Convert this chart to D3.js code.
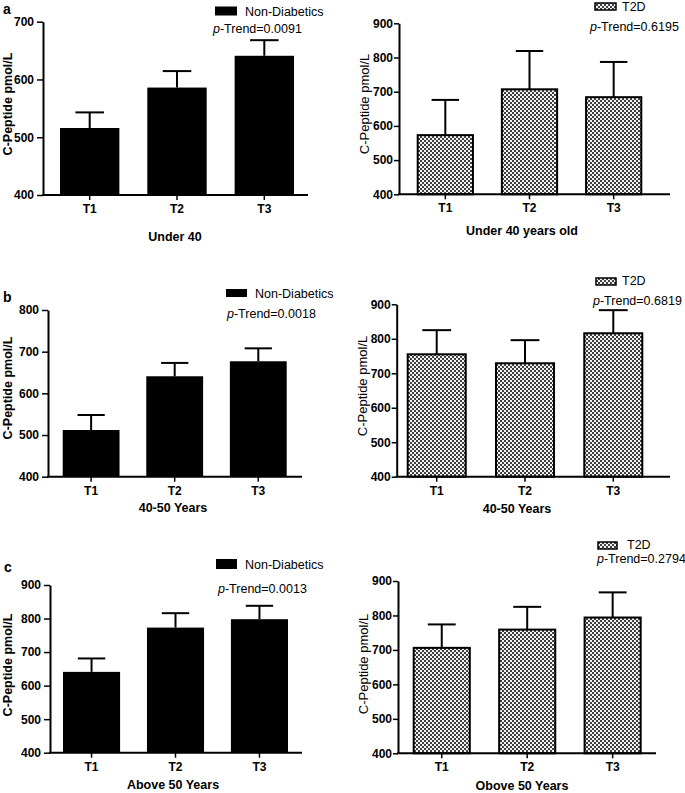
<!DOCTYPE html>
<html>
<head>
<meta charset="utf-8">
<script src="https://cdn.jsdelivr.net/npm/d3@7"></script>
<style>
  html, body { margin: 0; padding: 0; background: #fff; }
  svg { display: block; }
  text { font-family: "Liberation Sans", Arial, sans-serif; fill: #000; }
</style>
</head>
<body>
<svg id="chart" width="685" height="793"></svg>
<script>
// ---------- data ----------
const categories = ["T1", "T2", "T3"];

const under40NonDiab     = [516, 586, 641];
const under40NonDiabSEM  = [27, 28.5, 27];
const under40T2D         = [573, 707, 684];
const under40T2DSEM      = [103, 112, 103];

const age4050NonDiab     = [512, 641, 677];
const age4050NonDiabSEM  = [36, 32, 31];
const age4050T2D         = [755, 729, 816];
const age4050T2DSEM      = [70, 67, 67];

const above50NonDiab     = [641, 773, 798];
const above50NonDiabSEM  = [40, 43, 40];
const above50T2D         = [706, 759, 794];
const above50T2DSEM      = [68, 66, 73];

const ticks700 = [400, 500, 600, 700];
const ticks800 = [400, 500, 600, 700, 800];
const ticks900 = [400, 500, 600, 700, 800, 900];

const pTrends = ["0.0091", "0.6195", "0.0018", "0.6819", "0.0013", "0.2794"];
const groupLabels = ["Non-Diabetics", "T2D"];
const panelTitles = ["Under 40", "Under 40 years old", "40-50 Years", "40-50 Years", "Above 50 Years", "Obove 50 Years"];
const panelLetters = ["a", "b", "c"];
const yTitle = "C-Peptide pmol/L";

// ---------- layout ----------
const panels = [
  { values: under40NonDiab, sem: under40NonDiabSEM, ticks: ticks700, kind: 0, p: pTrends[0], title: panelTitles[0], letter: panelLetters[0],
    ax: 43, yTop: 21.7, yBot: 195, b0: 60, b1: 294, axEnd: 308,
    leg: [215, 6.5, 22, 9], legT: [245, 15.5], pT: [213, 33], titleX: 175, titleY: 241, letterXY: [3, 14], yLab: [12, 104] },
  { values: under40T2D, sem: under40T2DSEM, ticks: ticks900, kind: 1, p: pTrends[1], title: panelTitles[1], letter: null,
    ax: 399, yTop: 23.3, yBot: 194.3, b0: 416.7, b1: 642.3, axEnd: 670,
    leg: [595, 3, 21, 7], legT: [622, 11], pT: [590, 31], titleX: 522, titleY: 235, yLab: [369, 104] },
  { values: age4050NonDiab, sem: age4050NonDiabSEM, ticks: ticks800, kind: 0, p: pTrends[2], title: panelTitles[2], letter: panelLetters[1],
    ax: 48, yTop: 310, yBot: 476.7, b0: 62.7, b1: 286.7, axEnd: 302,
    leg: [226, 289, 21, 8], legT: [255, 298], pT: [227, 318], titleX: 173, titleY: 512, letterXY: [3, 302], yLab: [12, 388] },
  { values: age4050T2D, sem: age4050T2DSEM, ticks: ticks900, kind: 1, p: pTrends[3], title: panelTitles[3], letter: null,
    ax: 396.7, yTop: 304.3, yBot: 476.7, b0: 406.7, b1: 643.3, axEnd: 670,
    leg: [596, 278, 20, 7], legT: [622, 285], pT: [593, 305], titleX: 517, titleY: 513, yLab: [367, 386] },
  { values: above50NonDiab, sem: above50NonDiabSEM, ticks: ticks900, kind: 0, p: pTrends[4], title: panelTitles[4], letter: panelLetters[2],
    ax: 50, yTop: 585, yBot: 752.7, b0: 63, b1: 288, axEnd: 302,
    leg: [216, 559, 21, 10], legT: [245, 569], pT: [218, 593], titleX: 173, titleY: 789, letterXY: [4, 572], yLab: [12, 665] },
  { values: above50T2D, sem: above50T2DSEM, ticks: ticks900, kind: 1, p: pTrends[5], title: panelTitles[5], letter: null,
    ax: 398, yTop: 581, yBot: 753.3, b0: 412.7, b1: 641.7, axEnd: 656,
    leg: [598, 542, 19, 7], legT: [627, 549], pT: [597, 563], titleX: 522, titleY: 790, yLab: [368, 664] }
];

const svg = d3.select("#chart");

// checker pattern for T2D bars
const defs = svg.append("defs");
const pat = defs.append("pattern").attr("id", "chk")
  .attr("patternUnits", "userSpaceOnUse").attr("width", 4).attr("height", 4);
pat.append("rect").attr("width", 4).attr("height", 4).attr("fill", "#f2f2f2");
pat.append("rect").attr("x", 0).attr("y", 0).attr("width", 2).attr("height", 2).attr("fill", "#404040");
pat.append("rect").attr("x", 2).attr("y", 2).attr("width", 2).attr("height", 2).attr("fill", "#404040");

panels.forEach(P => {
  const g = svg.append("g");
  const y = d3.scaleLinear().domain([P.ticks[0], P.ticks[P.ticks.length - 1]]).range([P.yBot, P.yTop]);
  const x = d3.scaleBand().domain(categories).range([P.b0, P.b1]).paddingInner(0.32).paddingOuter(0);
  const bw = x.bandwidth();
  const fill = P.kind === 0 ? "#000" : "url(#chk)";

  // bars
  g.selectAll("rect.bar").data(categories).join("rect")
    .attr("class", "bar")
    .attr("x", d => x(d) + (P.kind === 1 ? 1 : 0))
    .attr("width", bw - (P.kind === 1 ? 2 : 0))
    .attr("y", (d, i) => y(P.values[i]))
    .attr("height", (d, i) => y(P.ticks[0]) - y(P.values[i]))
    .attr("fill", fill)
    .attr("stroke", "#000")
    .attr("stroke-width", P.kind === 1 ? 2 : 0);

  // error bars (upper)
  categories.forEach((c, i) => {
    const cx = x(c) + bw / 2;
    const top = y(P.values[i] + P.sem[i]);
    g.append("line").attr("x1", cx).attr("x2", cx)
      .attr("y1", y(P.values[i])).attr("y2", top)
      .attr("stroke", "#000").attr("stroke-width", 2);
    g.append("line").attr("x1", cx - bw * 0.24).attr("x2", cx + bw * 0.24)
      .attr("y1", top).attr("y2", top)
      .attr("stroke", "#000").attr("stroke-width", 2);
  });

  // y axis
  const tSize = P.kind === 0 ? 6 : 5;
  const tPad = P.kind === 0 ? 3 : 1;
  const yAx = g.append("g").attr("transform", `translate(${P.ax},0)`)
    .call(d3.axisLeft(y).tickValues(P.ticks).tickSize(tSize).tickSizeOuter(0).tickPadding(tPad).tickFormat(d3.format("d")));
  yAx.select(".domain").attr("stroke-width", 2);
  yAx.selectAll(".tick line").attr("stroke-width", 1.5);
  yAx.selectAll(".tick text").attr("font-size", 12).attr("font-weight", "bold")
    .attr("font-family", '"Liberation Sans", Arial, sans-serif').attr("fill", "#000");

  // x axis
  const xAx = g.append("g").attr("transform", `translate(0,${P.yBot})`)
    .call(d3.axisBottom(x).tickSize(5).tickSizeOuter(0).tickPadding(4.5));
  xAx.select(".domain").remove();
  xAx.selectAll(".tick line").attr("stroke-width", 1.5);
  xAx.selectAll(".tick text").attr("font-size", 12).attr("font-weight", "bold")
    .attr("font-family", '"Liberation Sans", Arial, sans-serif').attr("fill", "#000");
  g.append("line").attr("x1", P.ax - 1).attr("x2", P.axEnd)
    .attr("y1", P.yBot).attr("y2", P.yBot)
    .attr("stroke", "#000").attr("stroke-width", 2);

  // y axis title
  g.append("text")
    .attr("transform", `translate(${P.yLab[0]},${P.yLab[1]}) rotate(-90)`)
    .attr("text-anchor", "middle")
    .attr("font-size", P.kind === 0 ? 12.5 : 13)
    .attr("font-weight", P.kind === 0 ? "bold" : "normal")
    .text(yTitle);

  // x title
  g.append("text").attr("x", P.titleX).attr("y", P.titleY)
    .attr("text-anchor", "middle").attr("font-size", 12.5).attr("font-weight", "bold")
    .text(P.title);

  // legend
  g.append("rect").attr("x", P.leg[0]).attr("y", P.leg[1]).attr("width", P.leg[2]).attr("height", P.leg[3])
    .attr("fill", fill).attr("stroke", "#000").attr("stroke-width", P.kind === 1 ? 1.5 : 0);
  g.append("text").attr("x", P.legT[0]).attr("y", P.legT[1])
    .attr("font-size", 12.5).text(groupLabels[P.kind]);

  // p-trend
  const pt = g.append("text").attr("x", P.pT[0]).attr("y", P.pT[1]).attr("font-size", 12.5);
  pt.append("tspan").attr("font-style", "italic").text("p");
  pt.append("tspan").text("-Trend=" + P.p);

  // panel letter
  if (P.letter) {
    g.append("text").attr("x", P.letterXY[0]).attr("y", P.letterXY[1])
      .attr("font-size", 14).attr("font-weight", "bold").text(P.letter);
  }
});
</script>
</body>
</html>
